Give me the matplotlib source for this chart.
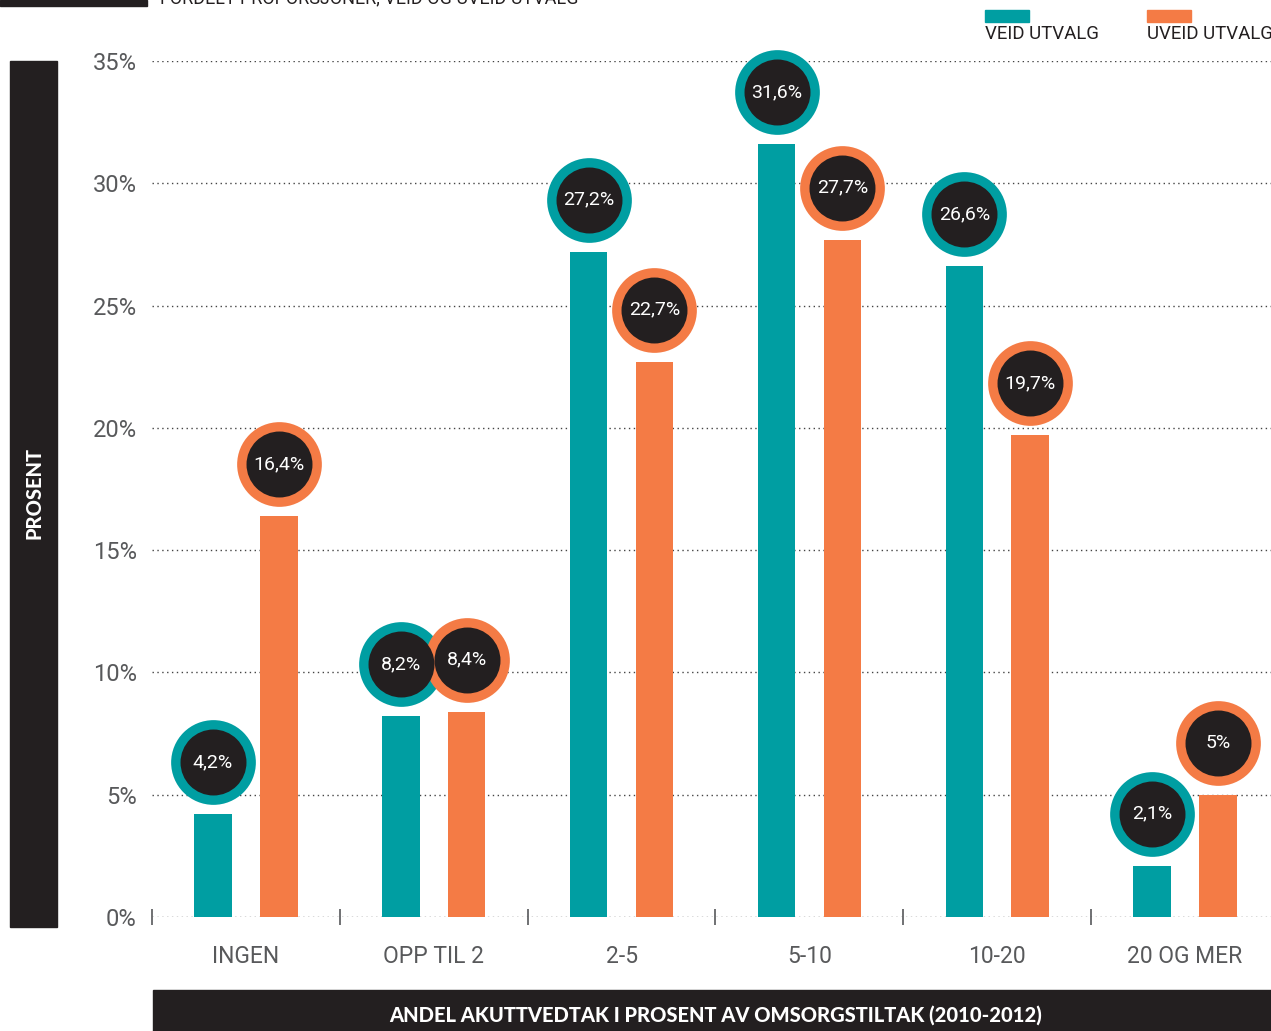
import matplotlib.pyplot as plt
from matplotlib.patches import Rectangle

# Data
categories = ['INGEN', 'OPP TIL 2', '2-5', '5-10', '10-20', '20 OG MER']
veid = [4.2, 8.2, 27.2, 31.6, 26.6, 2.1]
uveid = [16.4, 8.4, 22.7, 27.7, 19.7, 5.0]
veid_labels = ['4,2%', '8,2%', '27,2%', '31,6%', '26,6%', '2,1%']
uveid_labels = ['16,4%', '8,4%', '22,7%', '27,7%', '19,7%', '5%']
yticks = [0, 5, 10, 15, 20, 25, 30, 35]

TEAL = '#009ea2'
ORANGE = '#f47b45'
DARK = '#231f20'
GREY = '#58595b'

W, H = 1271, 1031
plt.rcParams['font.family'] = ['Roboto', 'DejaVu Sans']

fig = plt.figure(figsize=(W / 100, H / 100), dpi=100)


def px(x0, y0, x1, y1):
    # pixel box (top-left origin) -> figure fraction rect
    return (x0 / W, 1 - y1 / H, (x1 - x0) / W, (y1 - y0) / H)


ax_l, ax_b, ax_w, ax_h = px(152, 61, 1279, 917)
ax = fig.add_axes([ax_l, ax_b, ax_w, ax_h])

x = list(range(len(categories)))
off = 0.175
bw = 0.2
ax.bar([i - off for i in x], veid, width=bw, color=TEAL, zorder=3)
ax.bar([i + off for i in x], uveid, width=bw, color=ORANGE, zorder=3)

ax.set_xlim(-0.5, 5.5)
ax.set_ylim(0, 35)

# circle badges sit ~52 px above the bar tops
px_per_unit = (917 - 61) / 35
lift = 52 / px_per_unit
for xs, vals, labs, col in [([i - off for i in x], veid, veid_labels, TEAL),
                            ([i + off for i in x], uveid, uveid_labels, ORANGE)]:
    ys = [v + lift for v in vals]
    ax.scatter(xs, ys, s=61 ** 2, color=col, zorder=4, clip_on=False, linewidths=0)
    ax.scatter(xs, ys, s=47.5 ** 2, color=DARK, zorder=5, clip_on=False, linewidths=0)
    for xi, yi, t in zip(xs, ys, labs):
        ax.text(xi, yi, t, color='white', fontsize=14, ha='center', va='center',
                zorder=6, clip_on=False)

# axes styling
for s in ax.spines.values():
    s.set_visible(False)
ax.set_yticks(yticks)
ax.set_yticklabels([f'{t}%' for t in yticks], fontsize=17, color=GREY)
ax.tick_params(axis='y', length=0, pad=11)
ax.set_xticks(x)
ax.set_xticklabels(categories, fontsize=16.5, color=GREY)
ax.tick_params(axis='x', which='major', length=0, pad=20)
ax.set_xticks([i - 0.5 for i in range(len(categories) + 1)], minor=True)
ax.tick_params(axis='x', which='minor', direction='inout', length=11, width=1.2, color=GREY)
ax.grid(axis='y', color='#444444', linestyle=(0, (1, 2.5)), linewidth=1, zorder=0)
ax.set_axisbelow(True)

# decorative black blocks
for box in [(10, 61, 57, 927), (153, 990, 1271, 1031), (0, 0, 147, 6)]:
    r = px(*box)
    fig.patches.append(Rectangle(r[:2], *r[2:], transform=fig.transFigure, color=DARK))

fig.text(34 / W, 1 - 493 / H, 'PROSENT', rotation=90, color='white', fontsize=14.5,
         fontweight='black', ha='center', va='center', family=['Lato', 'DejaVu Sans'])
fig.text(716 / W, 1 - 1015 / H, 'ANDEL AKUTTVEDTAK I PROSENT AV OMSORGSTILTAK (2010-2012)',
         color='white', fontsize=14.5, fontweight='black', ha='center', va='center',
         family=['Lato', 'DejaVu Sans'])
fig.text(160 / W, 1 - 3 / H, 'FORDELT PROPORSJONER, VEID OG UVEID UTVALG',
         color=DARK, fontsize=13, ha='left', va='baseline')

# legend
for x0, col, lab in [(985, TEAL, 'VEID UTVALG'), (1147, ORANGE, 'UVEID UTVALG')]:
    r = px(x0, 10, x0 + 44, 22)
    fig.patches.append(Rectangle(r[:2], *r[2:], transform=fig.transFigure, color=col))
    fig.text(x0 / W, 1 - 34 / H, lab, color=DARK, fontsize=13.4, ha='left', va='center')

fig.savefig('out.png', dpi=100)
